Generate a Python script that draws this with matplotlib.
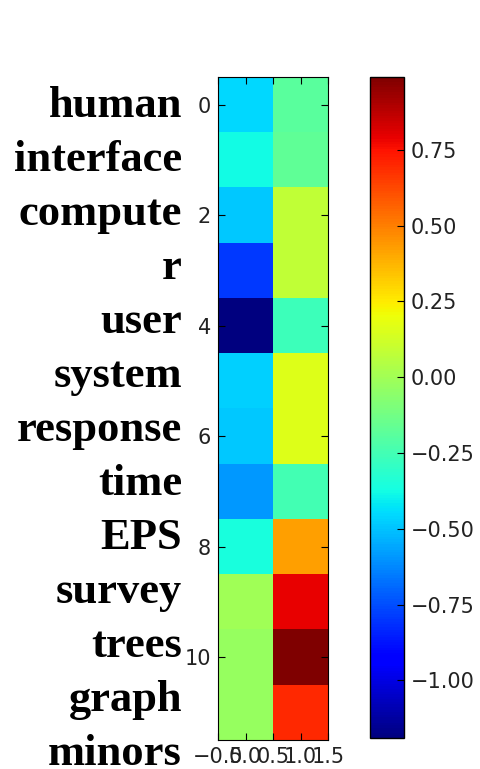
import matplotlib
matplotlib.use("Agg")
import matplotlib.pyplot as plt
import numpy as np

# term labels shown beside the heatmap (one entry per printed line)
label_lines = ["human", "interface", "compute", "r", "user", "system",
               "response", "time", "EPS", "survey", "trees", "graph", "minors"]

# two-component term weights, one row per term
comp_0 = [-0.45, -0.38, -0.49, -0.79, -1.19, -0.47,
          -0.49, -0.59, -0.36, 0.00, -0.03, -0.03]
comp_1 = [-0.19, -0.17, 0.085, 0.085, -0.27, 0.16,
          0.16, -0.25, 0.42, 0.79, 0.99, 0.70]

cbar_ticks = [0.75, 0.50, 0.25, 0.00, -0.25, -0.50, -0.75, -1.00]

W, H = 481, 769
fig = plt.figure(figsize=(W / 100, H / 100), dpi=100)
fig.patch.set_facecolor("white")

mat = np.column_stack([comp_0, comp_1])

ax = fig.add_axes([218 / W, (H - 740) / H, 110 / W, 663 / H])
im = ax.imshow(mat, cmap="jet", interpolation="nearest", aspect="auto")
ax.set_xticks([-0.5, 0.0, 0.5, 1.0, 1.5])
ax.set_xticklabels(["\u22120.5", "0.0", "0.5", "1.0", "1.5"])
ax.set_yticks([0, 2, 4, 6, 8, 10])
ax.tick_params(direction="in", top=True, right=True, length=5, pad=5,
               labelsize=15, colors="black", labelcolor="#222222")
ax.set_xlim(-0.5, 1.5)
ax.set_ylim(11.5, -0.5)

cax = fig.add_axes([370 / W, (H - 738) / H, 34 / W, 661 / H])
cb = fig.colorbar(im, cax=cax, ticks=cbar_ticks)
cb.ax.set_yticklabels([f"{t:.2f}".replace("-", "\u2212") for t in cbar_ticks])
cb.ax.tick_params(direction="in", length=5, pad=5, labelsize=15,
                  labelcolor="#222222")
cb.outline.set_linewidth(1.0)

# bold serif labels stacked down the left side
y_top = (H - 117) / H
step = 54 / H
for i, line in enumerate(label_lines):
    fig.text(182 / W, y_top - i * step, line, ha="right", va="baseline",
             family="Liberation Serif", fontweight="bold", fontsize=32)

fig.savefig("out.png", dpi=100, facecolor="white")
